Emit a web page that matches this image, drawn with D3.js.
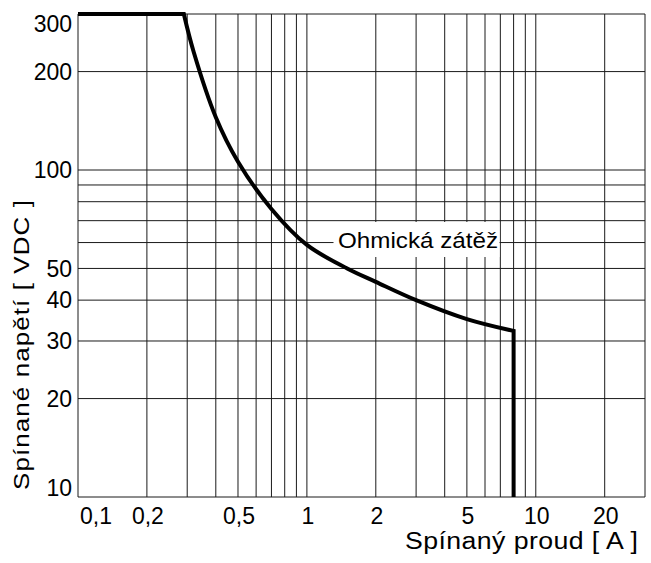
<!DOCTYPE html>
<html>
<head>
  <meta charset="UTF-8">
  <style>
body{
    margin: 0;
    background: #fff;
}
svg text{
    font-family: "Liberation Sans", Arial, sans-serif;
    fill: #000;
}
  </style>
</head>
<body>
<svg></svg>

<script src="https://d3js.org/d3.v7.min.js"></script>

<script>

let width = 651, height = 563;

// grid values (log-log chart)
let currentGrid = [0.1, 0.2, 0.3, 0.4, 0.5, 0.6, 0.7, 0.8, 0.9, 1, 2, 3, 4, 5, 6, 7, 8, 9, 10, 20, 30];
let voltageGrid = [10, 20, 30, 40, 50, 60, 70, 80, 90, 100, 200, 300];

// tick labels
let currentTicks = [0.1, 0.2, 0.5, 1, 2, 5, 10, 20];
let currentLabels = ["0,1", "0,2", "0,5", "1", "2", "5", "10", "20"];
let voltageTicks = [10, 20, 30, 40, 50, 100, 200, 300];
let voltageLabels = ["10", "20", "30", "40", "50", "100", "200", "300"];

// load limit curve: [current A, voltage V]
let flatPart = [[0.1, 300], [0.29, 300]];
let curvePart = [[0.29, 300], [0.32, 230], [0.4, 145], [0.5, 106], [0.7, 76], [1, 59],
    [1.5, 50], [2, 45.5], [3, 40], [5, 35], [8, 32.2]];
let dropPart = [[8, 32.2], [8, 10]];

let curveLabel = "Ohmická zátěž";
let xTitle = "Spínaný proud [ A ]";
let yTitle = "Spínané napětí [ VDC ]";

let svg = d3.select("svg")
    .attr("width", width)
    .attr("height", height)
    .attr("viewBox", "0 0 " + width + " " + height)

let x = d3.scaleLog()
    .domain([0.1, 30])
    .range([78, 645])

let y = d3.scaleLog()
    .domain([10, 300])
    .range([497, 14])

// grid
let grid = svg.append("g")
    .attr("stroke", "#1a1a1a")
    .attr("stroke-width", 1)

grid.selectAll(".vline")
  .data(currentGrid)
  .enter()
  .append("line")
    .attr("class", "vline")
    .attr("x1", d => x(d))
    .attr("x2", d => x(d))
    .attr("y1", y(300))
    .attr("y2", y(10))

grid.selectAll(".hline")
  .data(voltageGrid)
  .enter()
  .append("line")
    .attr("class", "hline")
    .attr("x1", x(0.1))
    .attr("x2", x(30))
    .attr("y1", d => y(d))
    .attr("y2", d => y(d))

// wide lettering: stretch the text a bit and pin its length
function wideText(g, str, tx, ty, rot, size, stretch, len) {
    return g.append("text")
        .attr("transform", "translate(" + tx + "," + ty + ") rotate(" + rot + ") scale(" + stretch + ",1)")
        .attr("font-size", size)
        .attr("textLength", len / stretch)
        .attr("lengthAdjust", "spacing")
        .text(str)
}

// label knocks the grid out behind it
svg.append("rect")
    .attr("x", 333.5)
    .attr("y", 222)
    .attr("width", 166)
    .attr("height", 35)
    .attr("fill", "#fff")

wideText(svg, curveLabel, 338, 248, 0, 22, 1.1, 160)

// the curve
let straight = d3.line()
    .x(d => x(d[0]))
    .y(d => y(d[1]))

let smooth = d3.line()
    .x(d => x(d[0]))
    .y(d => y(d[1]))
    .curve(d3.curveCatmullRom.alpha(0.5))

let pathD = straight(flatPart)
    + smooth(curvePart).replace(/^M/, "L")
    + straight(dropPart).replace(/^M/, "L")

svg.append("path")
    .attr("d", pathD)
    .attr("fill", "none")
    .attr("stroke", "#000")
    .attr("stroke-width", 4)
    .attr("stroke-linejoin", "miter")

// y tick labels
svg.append("g")
  .selectAll("text")
  .data(voltageTicks)
  .enter()
  .append("text")
    .attr("x", 72)
    .attr("y", d => {
        if (d == 300) return y(d) + 17.5;
        if (d == 10) return y(d) - 1;
        return y(d) + 8.3;
    })
    .attr("text-anchor", "end")
    .attr("font-size", 23)
    .text((d, i) => voltageLabels[i])

// x tick labels
svg.append("g")
  .selectAll("text")
  .data(currentTicks)
  .enter()
  .append("text")
    .attr("x", d => d == 0.1 ? x(d) + 2 : x(d) + 1)
    .attr("y", 524)
    .attr("text-anchor", d => d == 0.1 ? "start" : "middle")
    .attr("font-size", 23)
    .text((d, i) => currentLabels[i])

// axis titles
wideText(svg, xTitle, 405, 549, 0, 23, 1.16, 233)
wideText(svg, yTitle, 28.5, 490, -90, 22, 1.18, 290)

</script>
</body>
</html>
